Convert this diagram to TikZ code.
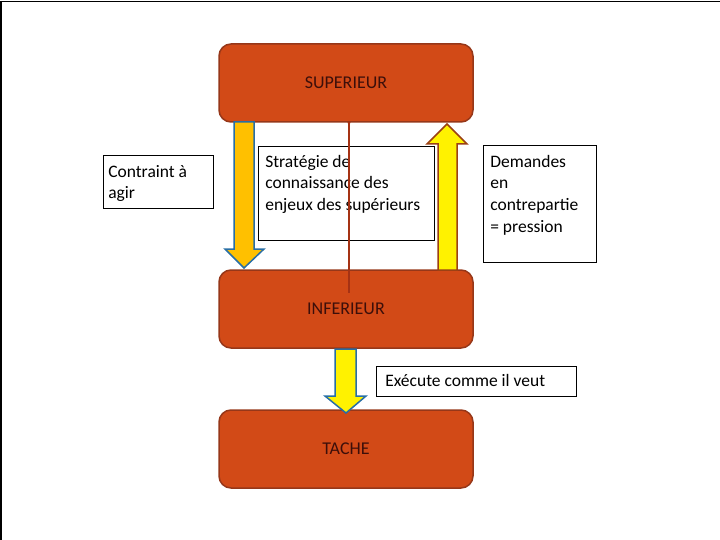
\documentclass[tikz,border=0pt]{standalone}
\usepackage{fontspec}
\setmainfont{Carlito}
\definecolor{boxfill}{RGB}{210,74,23}
\definecolor{boxline}{RGB}{150,55,25}
\definecolor{boxtext}{RGB}{60,15,10}
\definecolor{arrowblue}{RGB}{40,110,165}
\definecolor{arrowbrown}{RGB}{155,65,20}
\definecolor{linered}{RGB}{165,50,20}
\definecolor{darkorange}{RGB}{255,192,0}
\tikzset{
  level/.style={rectangle,rounded corners=12pt,draw=boxline,line width=1.5pt,fill=boxfill,
    minimum width=254pt,minimum height=78pt,text=boxtext,font=\fontsize{18}{21}\selectfont},
  note/.style={rectangle,draw=black,line width=0.6pt,fill=white,anchor=north west,
    inner xsep=7pt,inner ysep=0pt,font=\fontsize{17.5}{21.7}\selectfont},
  blockarrow/.style={line width=1.5pt,line join=miter}
}
% largeur, hauteur, position de la premiere ligne, texte
\newcommand\notetext[4]{\parbox[t][#2][t]{#1}{\raggedright\rule{0pt}{#3}#4}}

\begin{document}
\begin{tikzpicture}[x=1pt,y=-1pt]
  \useasboundingbox (0,0) rectangle (720,540);
  \draw[line width=1.5pt] (1,540) -- (1,1.5) -- (720,1.5);

  \draw (346,83) node[level] (sup) {SUPERIEUR};
  \draw (346,309) node[level] (inf) {INFERIEUR};
  \draw (346,449) node[level] (tache) {TACHE};

  % fleche descendante orange
  \draw[blockarrow,draw=arrowblue,fill=darkorange]
    (234,122) -- (254,122) -- (254,249) -- (264,249) -- (244,268)
    -- (225,249) -- (234,249) -- cycle;
  % fleche montante jaune
  \draw[blockarrow,draw=arrowbrown,fill=yellow]
    (438,270) -- (438,144) -- (427,144) -- (447,124) -- (467,144)
    -- (457,144) -- (457,270) -- cycle;
  % fleche vers la tache
  \draw[blockarrow,draw=arrowblue,fill=yellow]
    (335,349) -- (356,349) -- (356,396) -- (366,396) -- (346,413)
    -- (325,396) -- (335,396) -- cycle;

  \node[note,inner xsep=5pt] (contraint) at (103,155) {\notetext{100pt}{53pt}{22pt}{Contraint à\\agir}};
  \node[note] (strategie) at (258,146) {\notetext{162pt}{94pt}{21pt}{Stratégie de\\connaissance des\\enjeux des supérieurs}};
  \node[note] (demandes) at (483,145) {\notetext{99pt}{117pt}{22pt}{Demandes\\en\\contrepartie\\= pression}};
  \node[note,inner xsep=9pt] (execute) at (376,366) {\notetext{182pt}{30pt}{20pt}{Exécute comme il veut}};

  \coordinate (fin) at (349,293);
  \draw[linered,line width=1.2pt] (sup.south -| fin) -- (fin);
  \fill[linered] (sup.south -| fin) circle (1.6pt);
\end{tikzpicture}
\end{document}
